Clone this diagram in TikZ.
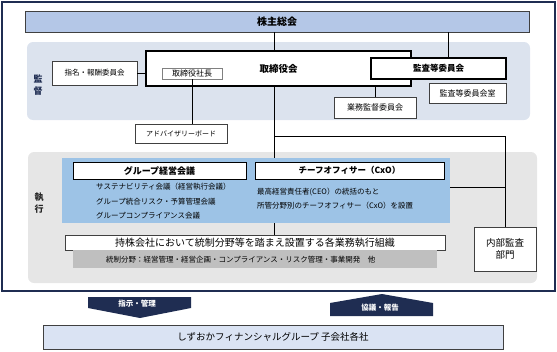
\documentclass[tikz,border=0pt]{standalone}
\usepackage{fontspec}
\setmainfont{Noto Sans CJK JP}
\usepackage{xcolor}
\usetikzlibrary{positioning}

\definecolor{navy}{HTML}{1F2D52}
\definecolor{agmblue}{HTML}{B4C7E7}
\definecolor{supbg}{HTML}{DCE3EE}
\definecolor{exebg}{HTML}{E6E6E6}
\definecolor{blkblue}{HTML}{9DC3E6}
\definecolor{subblue}{HTML}{DAE3F3}
\definecolor{fieldgray}{HTML}{BFBFBF}
\definecolor{edge}{HTML}{404040}
\newcommand{\jsize}[2]{\fontsize{#1}{#2}\selectfont}

\begin{document}
\begin{tikzpicture}[x=1pt,y=-1pt,
    b/.style={draw=edge,fill=white,line width=0.7pt,inner sep=0pt,outer sep=0pt,align=center},
    main/.style={b,draw=black,line width=1.6pt},
    txt/.style={inner sep=0pt,anchor=west,font=\jsize{7.5}{9}},
    lbl/.style={inner sep=0pt,align=center,text=navy,font=\jsize{9}{12}\bfseries},
    arrtext/.style={inner sep=0pt,text=white,font=\jsize{7.5}{9}\bfseries},
    link/.style={draw=black,line width=0.8pt}
  ]
    \useasboundingbox (0,0) rectangle (557,351);
    \draw[navy,line width=1.3pt] (2,2) rectangle (555,291);
    \fill[supbg,rounded corners=6pt] (27,42) rectangle (530,120);
    \fill[exebg,rounded corners=6pt] (28,152) rectangle (537,283);

    \node[lbl] (suplbl) at (38,85) {監\\督};
    \node[lbl,text=black!85] (exelbl) at (39,203) {執\\行};

    \node[b,fill=agmblue,minimum width=504pt,minimum height=21pt,font=\jsize{10}{11}\bfseries] (agm) at (277,21.5) {株主総会};
    \node[main,minimum width=265pt,minimum height=35pt,font=\jsize{9.5}{11}\bfseries] (board) at (278.5,68.5) {取締役会};
    \node[main,minimum width=135pt,minimum height=21pt,font=\jsize{8.5}{10}\bfseries] (auditcomm) at (438.5,68.5) {監査等委員会};
    \node[b,minimum width=85pt,minimum height=24pt,font=\jsize{7.5}{9}] (nomcomm) at (94.5,73) {指名・報酬委員会};
    \node[b,draw=gray,minimum width=60pt,minimum height=11pt,font=\jsize{8}{9}] (pres) at (192,73.5) {取締役社長};
    \node[b,minimum width=77pt,minimum height=20pt,font=\jsize{8}{9},below=4pt of auditcomm.south east,anchor=north east] (auditoffice) {監査等委員会室};
    \node[b,minimum width=82pt,minimum height=21pt,font=\jsize{8}{9}] (bizsup) at (375,107.5) {業務監督委員会};
    \node[b,minimum width=92pt,minimum height=19pt,font=\jsize{7}{8}] (advisory) at (181,133.5) {アドバイザリーボード};

    \draw[link] (agm.south -| 274,0) -- (board.north -| 274,0);
    \draw[link] (agm.south -| 448,0) -- (auditcomm.north -| 448,0);
    \draw[link] (nomcomm.east) -- (nomcomm.east -| board.west);
    \draw[link] (pres.south) -- (pres.south |- advisory.north);
    \draw[link] (bizsup.north |- board.south) -- (bizsup.north);

    \node[b,minimum width=380pt,minimum height=15pt,font=\jsize{10}{11}] (bizorg) at (255,242.5) {持株会社において統制分野等を踏まえ設置する各業務執行組織};
    \node[fill=fieldgray,inner sep=0pt,inner xsep=33pt,text width=298pt,minimum height=18pt,align=left,font=\jsize{7.5}{9},below=0pt of bizorg] (fields) {統制分野：経営管理・経営企画・コンプライアンス・リスク管理・事業開発　他};
    \node[b,minimum width=62pt,minimum height=44pt,font=\jsize{9.5}{12.5}] (ia) at (505,249) {内部監査\\部門};

    \draw[link] (board.south -| 274,0) -- (bizorg.north -| 274,0);
    \coordinate (split) at (274,136);
    \draw[link] (split) -| (ia.north);

    % execution block
    \node[fill=blkblue,minimum width=388pt,minimum height=65pt,inner sep=0pt] (execblk) at (256,190.5) {};
    \draw[link] (execblk.east |- 0,187) -- (ia.north |- 0,187);
    \node[b,draw=black,line width=0.8pt,minimum width=173pt,minimum height=17pt,font=\jsize{9}{10}\bfseries] (gmc) at (159.5,170.5) {グループ経営会議};
    \node[b,draw=black,line width=0.8pt,minimum width=189pt,minimum height=17pt,font=\jsize{8.5}{10}\bfseries] (cxo) at (349.5,170.5) {チーフオフィサー（CxO）};
    \node[txt] (sustain) at (96,187) {サステナビリティ会議（経営執行会議）};
    \node[txt] (risk) at (96,201.5) {グループ統合リスク・予算管理会議};
    \node[txt] (compl) at (96,216) {グループコンプライアンス会議};
    \node[txt] (ceo) at (257,192) {最高経営責任者(CEO）の統括のもと};
    \node[txt] (cxoset) at (257,206) {所管分野別のチーフオフィサー（CxO）を設置};

    % arrows to subsidiaries
    \fill[navy] (88,297) -- (191,297) -- (191,308) -- (140,318) -- (88,308) -- cycle;
    \node[arrtext] (instr) at (137,304) {指示・管理};
    \fill[navy] (330,316) -- (330,303) -- (382,294) -- (433,303) -- (433,316) -- cycle;
    \node[arrtext] (consult) at (380,308) {協議・報告};

    \node[b,fill=subblue,minimum width=460pt,minimum height=24pt,font=\jsize{9.5}{11}] (subs) at (273,337) {しずおかフィナンシャルグループ 子会社各社};
  \end{tikzpicture}
\end{document}
